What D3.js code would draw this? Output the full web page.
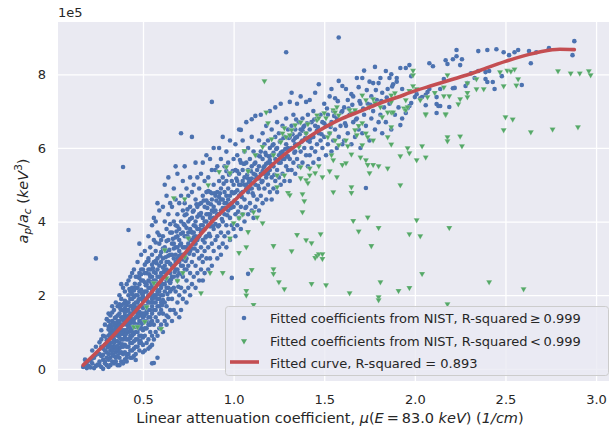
<!DOCTYPE html>
<html>
<head>
<meta charset="utf-8">
<script src="https://cdn.jsdelivr.net/npm/d3@7"></script>
<style>
body { margin: 0; background: #fff; }
text { font-family: "DejaVu Sans", sans-serif; fill: #262626; }
</style>
</head>
<body>
<div id="chart"></div>
<script>
// values; ratio a_p/a_c is in units of 1e5
var curveMu    = [0.17, 0.3, 0.4, 0.5, 0.6, 0.7, 0.8, 0.9, 1.0, 1.1, 1.2, 1.3, 1.4, 1.5, 1.6, 1.7, 1.8, 1.9, 2.0, 2.1, 2.2, 2.3, 2.4, 2.5, 2.6, 2.7, 2.8, 2.88];
var curveRatio = [0.10, 0.72, 1.25, 1.8, 2.4, 2.95, 3.55, 4.1, 4.55, 5.02, 5.48, 5.9, 6.25, 6.55, 6.8, 7.0, 7.2, 7.37, 7.55, 7.7, 7.85, 8.0, 8.18, 8.35, 8.5, 8.62, 8.68, 8.67];

// fitted coefficients from NIST, R-squared >= 0.999  [mu, ratio]
var nistGood = [
[0.17,0.05],[0.18,0.12],[0.19,0.02],[0.18,0.25],[0.2,0.08],[0.19,0.18],
[0.21,0.04],[0.22,0.15],[0.23,0.3],[0.21,0.22],[0.24,0.08],[0.22,0.5],[0.23,0.02],[0.24,0.38],[0.25,0.12],[0.22,0.28],[0.24,0.6],[0.24,3.0],
[0.26,0.1],[0.27,0.35],[0.28,0.55],[0.26,0.72],[0.29,0.2],[0.27,0.05],[0.28,0.9],[0.3,0.45],[0.29,0.65],[0.26,0.4],[0.27,1.05],[0.28,0.25],[0.29,1.2],[0.3,0.78],[0.3,0.1],[0.28,0.38],[0.27,0.6],[0.29,0.5],[0.26,0.2],[0.3,1.35],[0.29,0.88],[0.28,0.0],[0.3,0.3],[0.27,0.8],[0.29,0.15],
[0.31,0.05],[0.31,0.4],[0.32,0.7],[0.32,1.0],[0.33,0.2],[0.33,1.3],[0.34,0.55],[0.34,0.9],[0.31,1.15],[0.32,0.3],[0.33,0.85],[0.34,1.6],[0.35,0.45],[0.35,1.1],[0.31,0.65],[0.32,1.45],[0.33,0.6],[0.34,0.15],[0.35,0.75],[0.31,0.9],[0.32,0.5],[0.33,1.05],[0.34,1.25],[0.35,0.3],[0.31,0.25],[0.32,0.85],[0.33,0.4],[0.34,0.7],[0.35,1.4],[0.35,0.95],[0.31,1.5],[0.32,1.2],[0.33,1.7],[0.34,0.35],[0.35,0.6],[0.32,0.1],[0.33,0.95],[0.34,1.05],[0.31,0.75],[0.35,1.8],[0.33,0.5],[0.34,0.8],[0.32,0.6],[0.31,1.3],[0.35,0.2],
[0.36,0.1],[0.36,0.5],[0.36,0.9],[0.36,1.3],[0.36,1.7],[0.37,0.3],[0.37,0.7],[0.37,1.1],[0.37,1.5],[0.37,2.0],[0.38,0.2],[0.38,0.6],[0.38,1.0],[0.38,1.4],[0.38,1.9],[0.39,0.4],[0.39,0.8],[0.39,1.2],[0.39,1.6],[0.39,2.2],[0.4,0.25],[0.4,0.65],[0.4,1.05],[0.4,1.45],[0.4,1.85],[0.36,0.75],[0.37,0.95],[0.38,1.2],[0.39,0.95],[0.4,0.85],[0.36,1.15],[0.37,1.3],[0.38,0.8],[0.39,1.05],[0.4,1.25],[0.36,0.35],[0.37,0.55],[0.38,0.45],[0.39,0.6],[0.4,0.45],[0.37,1.75],[0.38,1.6],[0.39,1.4],[0.4,1.65],[0.36,1.45],[0.38,2.3],[0.39,0.15],[0.37,0.1],[0.4,2.1],[0.38,1.05],[0.39,5.48],[0.36,1.0],[0.37,0.85],[0.4,1.0],[0.38,0.95],
[0.41,0.2],[0.41,0.6],[0.41,1.0],[0.41,1.4],[0.41,1.8],[0.41,2.3],[0.42,0.4],[0.42,0.8],[0.42,1.2],[0.42,1.6],[0.42,2.0],[0.42,3.77],[0.43,0.3],[0.43,0.7],[0.43,1.1],[0.43,1.5],[0.43,1.9],[0.43,2.5],[0.44,0.5],[0.44,0.9],[0.44,1.3],[0.44,1.7],[0.44,2.2],[0.45,0.35],[0.45,0.75],[0.45,1.15],[0.45,1.55],[0.45,1.95],[0.45,2.7],[0.41,1.2],[0.42,1.0],[0.43,1.3],[0.44,1.1],[0.45,1.35],[0.41,0.8],[0.42,1.45],[0.43,0.9],[0.44,1.5],[0.45,0.95],[0.41,1.6],[0.42,0.6],[0.43,1.7],[0.44,0.7],[0.45,1.75],[0.42,1.8],[0.43,2.1],[0.44,1.9],[0.41,0.4],[0.43,0.5],[0.45,0.55],[0.42,2.4],[0.44,2.6],[0.41,1.05],[0.43,1.2],[0.45,1.25],[0.44,0.3],[0.42,1.25],[0.43,1.4],[0.41,1.35],[0.44,1.0],[0.41,0.3],[0.46,0.24],
[0.46,0.4],[0.46,0.8],[0.46,1.2],[0.46,1.6],[0.46,2.0],[0.46,2.5],[0.47,0.6],[0.47,1.0],[0.47,1.4],[0.47,1.8],[0.47,2.2],[0.47,2.9],[0.48,0.5],[0.48,0.9],[0.48,1.3],[0.48,1.7],[0.48,2.1],[0.48,2.6],[0.49,0.7],[0.49,1.1],[0.49,1.5],[0.49,1.9],[0.49,2.4],[0.49,3.1],[0.5,0.45],[0.5,0.85],[0.5,1.25],[0.5,1.65],[0.5,2.05],[0.5,2.7],[0.46,1.4],[0.47,1.55],[0.48,1.45],[0.49,1.3],[0.5,1.5],[0.46,1.0],[0.47,1.2],[0.48,1.1],[0.49,1.7],[0.5,1.05],[0.46,1.8],[0.47,2.0],[0.48,1.9],[0.49,2.15],[0.5,1.85],[0.46,0.6],[0.47,0.8],[0.48,0.7],[0.49,0.9],[0.5,0.65],[0.46,2.2],[0.47,2.5],[0.48,2.3],[0.49,2.7],[0.5,2.4],[0.47,1.65],[0.48,1.55],[0.49,1.2],[0.5,1.4],[0.48,3.4],
[0.51,0.5],[0.51,0.9],[0.51,1.3],[0.51,1.7],[0.51,2.1],[0.51,2.6],[0.51,3.2],[0.52,0.7],[0.52,1.1],[0.52,1.5],[0.52,1.9],[0.52,2.3],[0.52,2.9],[0.53,0.8],[0.53,1.2],[0.53,1.6],[0.53,2.0],[0.53,2.4],[0.53,3.0],[0.53,3.6],[0.54,0.6],[0.54,1.0],[0.54,1.4],[0.54,1.8],[0.54,2.2],[0.54,2.7],[0.54,3.3],[0.55,0.9],[0.55,1.3],[0.55,1.7],[0.55,2.1],[0.55,2.5],[0.55,3.1],[0.55,3.9],[0.51,1.5],[0.52,1.7],[0.53,1.8],[0.54,1.6],[0.55,1.9],[0.51,1.9],[0.52,2.1],[0.53,2.2],[0.54,2.0],[0.55,2.3],[0.51,1.1],[0.52,1.3],[0.53,1.4],[0.54,1.2],[0.55,1.5],[0.52,2.6],[0.53,2.7],[0.54,2.5],[0.51,2.35],[0.53,0.55],[0.55,0.65],[0.55,0.15],[0.56,0.16],[0.58,0.3],
[0.56,0.8],[0.56,1.2],[0.56,1.6],[0.56,2.0],[0.56,2.4],[0.56,2.9],[0.56,3.5],[0.57,1.0],[0.57,1.4],[0.57,1.8],[0.57,2.2],[0.57,2.6],[0.57,3.2],[0.57,4.0],[0.58,0.9],[0.58,1.3],[0.58,1.7],[0.58,2.1],[0.58,2.5],[0.58,3.0],[0.58,3.7],[0.59,1.1],[0.59,1.5],[0.59,1.9],[0.59,2.3],[0.59,2.8],[0.59,3.4],[0.59,4.3],[0.6,1.2],[0.6,1.6],[0.6,2.0],[0.6,2.4],[0.6,2.9],[0.6,3.5],[0.56,2.2],[0.57,2.0],[0.58,2.3],[0.59,2.1],[0.6,2.2],[0.56,1.8],[0.57,1.6],[0.58,1.9],[0.59,1.7],[0.6,1.8],[0.57,2.4],[0.58,2.7],[0.59,2.5],[0.6,2.6],[0.58,4.5],[0.56,4.1],
[0.61,1.0],[0.61,1.5],[0.61,2.0],[0.61,2.5],[0.61,3.0],[0.61,3.6],[0.61,4.4],[0.62,1.3],[0.62,1.8],[0.62,2.3],[0.62,2.8],[0.62,3.3],[0.62,4.0],[0.63,1.2],[0.63,1.7],[0.63,2.2],[0.63,2.7],[0.63,3.2],[0.63,3.8],[0.63,4.7],[0.64,1.4],[0.64,1.9],[0.64,2.4],[0.64,2.9],[0.64,3.5],[0.64,4.2],[0.65,1.6],[0.65,2.1],[0.65,2.6],[0.65,3.1],[0.65,3.7],[0.65,4.5],[0.61,2.3],[0.62,2.5],[0.63,2.4],[0.64,2.2],[0.65,2.35],[0.62,2.1],[0.63,2.9],[0.64,2.65],[0.61,2.75],[0.65,2.85],[0.63,1.45],[0.62,5.0],[0.64,5.2],
[0.66,1.3],[0.66,1.9],[0.66,2.5],[0.66,3.1],[0.66,3.7],[0.66,4.4],[0.67,1.6],[0.67,2.2],[0.67,2.8],[0.67,3.4],[0.67,4.0],[0.67,4.9],[0.68,1.5],[0.68,2.1],[0.68,2.7],[0.68,3.3],[0.68,3.9],[0.68,4.6],[0.69,1.8],[0.69,2.4],[0.69,3.0],[0.69,3.6],[0.69,4.2],[0.69,5.3],[0.7,2.0],[0.7,2.6],[0.7,3.2],[0.7,3.8],[0.7,4.5],[0.66,2.8],[0.67,3.0],[0.68,2.9],[0.69,2.7],[0.7,2.9],[0.67,2.5],[0.68,3.1],[0.69,3.3],[0.66,3.4],[0.7,3.5],[0.68,5.5],[0.7,1.4],
[0.71,1.6],[0.71,2.2],[0.71,2.8],[0.71,3.4],[0.71,4.0],[0.71,4.7],[0.71,6.4],[0.72,1.9],[0.72,2.5],[0.72,3.1],[0.72,3.7],[0.72,4.3],[0.72,5.1],[0.73,2.1],[0.73,2.7],[0.73,3.3],[0.73,3.9],[0.73,4.5],[0.73,5.5],[0.74,1.8],[0.74,2.4],[0.74,3.0],[0.74,3.6],[0.74,4.2],[0.74,4.9],[0.75,2.2],[0.75,2.8],[0.75,3.4],[0.75,4.0],[0.75,4.7],[0.72,3.3],[0.73,3.1],[0.74,3.3],[0.75,3.2],[0.71,3.1],[0.73,3.6],[0.74,2.7],[0.72,2.8],[0.75,3.7],
[0.76,2.0],[0.76,2.6],[0.76,3.2],[0.76,3.8],[0.76,4.4],[0.76,5.2],[0.77,2.3],[0.77,2.9],[0.77,3.5],[0.77,4.1],[0.77,4.8],[0.77,6.3],[0.78,2.5],[0.78,3.1],[0.78,3.7],[0.78,4.3],[0.78,5.0],[0.79,2.2],[0.79,2.8],[0.79,3.4],[0.79,4.0],[0.79,4.6],[0.79,5.6],[0.8,2.6],[0.8,3.2],[0.8,3.8],[0.8,4.4],[0.8,5.2],[0.77,3.7],[0.78,3.4],[0.79,3.6],[0.8,3.5],[0.76,3.5],[0.78,3.9],
[0.81,2.4],[0.81,3.0],[0.81,3.6],[0.81,4.2],[0.81,4.9],[0.82,2.7],[0.82,3.3],[0.82,3.9],[0.82,4.5],[0.82,5.3],[0.83,2.9],[0.83,3.5],[0.83,4.1],[0.83,4.7],[0.83,5.6],[0.84,2.6],[0.84,3.2],[0.84,3.8],[0.84,4.4],[0.84,5.1],[0.85,3.0],[0.85,3.6],[0.85,4.2],[0.85,4.8],[0.85,5.8],[0.82,3.7],[0.83,3.9],[0.84,4.0],[0.81,3.8],[0.85,4.0],[0.83,2.4],
[0.86,2.7],[0.86,3.3],[0.86,3.9],[0.86,4.5],[0.86,5.2],[0.87,3.0],[0.87,3.6],[0.87,4.2],[0.87,4.8],[0.87,5.7],[0.88,2.8],[0.88,3.4],[0.88,4.0],[0.88,4.6],[0.88,5.4],[0.88,7.25],[0.89,3.2],[0.89,3.8],[0.89,4.4],[0.89,5.0],[0.89,6.0],[0.9,3.5],[0.9,4.1],[0.9,4.7],[0.9,5.4],[0.87,4.1],[0.88,4.3],[0.89,4.1],[0.86,4.2],[0.9,4.3],
[0.91,3.0],[0.91,3.6],[0.91,4.2],[0.91,4.8],[0.91,5.5],[0.92,3.3],[0.92,3.9],[0.92,4.5],[0.92,5.1],[0.92,6.0],[0.93,3.1],[0.93,3.7],[0.93,4.3],[0.93,4.9],[0.93,5.7],[0.94,3.4],[0.94,4.0],[0.94,4.6],[0.94,5.2],[0.94,6.3],[0.95,3.6],[0.95,4.2],[0.95,4.8],[0.95,5.5],[0.96,3.3],[0.96,3.9],[0.96,4.5],[0.96,5.1],[0.96,5.9],[0.97,3.7],[0.97,4.3],[0.97,4.9],[0.97,5.6],[0.98,3.5],[0.98,4.1],[0.98,4.7],[0.98,5.3],[0.98,6.2],[0.99,3.9],[0.99,4.5],[0.99,5.1],[0.99,2.47],[1.0,3.8],[1.0,4.4],[1.0,5.0],[1.0,5.7],[0.93,4.6],[0.95,4.5],[0.97,4.6],[0.99,4.8],[0.92,4.2],[0.96,4.7],
[1.01,3.6],[1.01,4.2],[1.01,4.8],[1.01,5.4],[1.01,6.1],[1.02,3.9],[1.02,4.5],[1.02,5.1],[1.02,5.8],[1.03,4.1],[1.03,4.7],[1.03,5.3],[1.03,6.5],[1.04,3.8],[1.04,4.4],[1.04,5.0],[1.04,5.6],[1.04,6.49],[1.05,4.2],[1.05,4.8],[1.05,5.4],[1.05,6.2],[1.06,4.0],[1.06,4.6],[1.06,5.2],[1.06,5.9],[1.07,4.4],[1.07,5.0],[1.07,5.6],[1.07,6.7],[1.08,4.2],[1.08,4.8],[1.08,5.4],[1.08,6.0],[1.08,2.58],[1.09,4.5],[1.09,5.1],[1.09,5.7],[1.1,4.3],[1.1,4.9],[1.1,5.5],[1.1,6.3],[1.1,6.78],[1.03,5.0],[1.05,5.1],[1.07,4.9],[1.09,4.9],[1.02,4.85],[1.06,5.0],
[1.11,4.1],[1.11,4.7],[1.11,5.3],[1.11,5.9],[1.12,4.4],[1.12,5.0],[1.12,5.6],[1.12,6.87],[1.13,4.6],[1.13,5.2],[1.13,5.8],[1.14,4.3],[1.14,4.9],[1.14,5.5],[1.14,6.2],[1.15,4.7],[1.15,5.3],[1.15,5.9],[1.15,6.9],[1.16,4.5],[1.16,5.1],[1.16,5.7],[1.16,6.4],[1.17,4.9],[1.17,5.5],[1.17,6.1],[1.18,4.6],[1.18,5.2],[1.18,5.8],[1.18,6.6],[1.19,5.0],[1.19,5.6],[1.19,6.2],[1.2,4.8],[1.2,5.4],[1.2,6.0],[1.2,7.0],[1.13,5.4],[1.17,5.3],[1.19,5.3],
[1.21,4.6],[1.21,5.2],[1.21,5.8],[1.21,6.5],[1.22,4.9],[1.22,5.5],[1.22,6.1],[1.23,5.1],[1.23,5.7],[1.23,6.3],[1.23,7.1],[1.24,4.8],[1.24,5.4],[1.24,6.0],[1.24,6.7],[1.25,5.2],[1.25,5.8],[1.25,6.4],[1.26,5.0],[1.26,5.6],[1.26,6.2],[1.26,7.2],[1.27,5.3],[1.27,5.9],[1.27,6.6],[1.28,5.1],[1.28,5.7],[1.28,6.3],[1.29,5.5],[1.29,6.1],[1.29,6.8],[1.29,8.6],[1.3,5.4],[1.3,6.0],[1.3,6.5],[1.25,5.6],[1.27,5.7],
[1.31,5.1],[1.31,5.7],[1.31,6.3],[1.31,7.25],[1.32,5.4],[1.32,6.0],[1.32,6.6],[1.32,7.5],[1.33,5.6],[1.33,6.2],[1.33,6.9],[1.34,5.3],[1.34,5.9],[1.34,6.5],[1.35,5.7],[1.35,6.3],[1.35,7.2],[1.36,5.5],[1.36,6.1],[1.36,6.7],[1.37,5.9],[1.37,6.5],[1.37,7.4],[1.38,5.6],[1.38,6.2],[1.38,6.8],[1.39,6.0],[1.39,6.6],[1.4,5.8],[1.4,6.4],[1.4,7.25],[1.34,6.1],
[1.41,5.5],[1.41,6.2],[1.41,6.9],[1.42,5.8],[1.42,6.5],[1.42,7.3],[1.43,6.0],[1.43,6.7],[1.44,5.6],[1.44,6.3],[1.44,7.0],[1.45,5.9],[1.45,6.6],[1.45,7.5],[1.46,6.1],[1.46,6.8],[1.47,5.7],[1.47,6.4],[1.47,7.73],[1.48,6.2],[1.48,6.9],[1.49,6.0],[1.49,6.7],[1.5,6.3],[1.5,7.2],
[1.51,5.8],[1.51,6.6],[1.52,6.1],[1.52,6.9],[1.53,6.4],[1.53,7.4],[1.54,5.9],[1.54,6.7],[1.54,7.6],[1.55,6.2],[1.55,7.0],[1.56,6.5],[1.56,7.35],[1.57,6.0],[1.57,6.8],[1.58,6.3],[1.58,7.82],[1.58,9.0],[1.59,6.6],[1.6,6.1],[1.6,7.0],[1.6,7.68],
[1.61,6.2],[1.61,7.1],[1.62,6.6],[1.62,7.6],[1.63,6.4],[1.63,7.3],[1.64,6.9],[1.65,6.1],[1.65,7.46],[1.66,6.7],[1.66,7.4],[1.67,6.3],[1.67,7.0],[1.68,6.8],[1.68,7.9],[1.69,6.5],[1.69,7.65],[1.7,7.2],[1.7,6.0],
[1.71,6.4],[1.71,7.9],[1.72,6.9],[1.72,8.1],[1.73,6.6],[1.73,4.91],[1.74,7.2],[1.75,6.2],[1.75,7.8],[1.76,6.8],[1.76,7.4],[1.77,7.0],[1.77,7.76],[1.78,6.5],[1.78,8.2],[1.79,7.3],[1.8,6.7],[1.8,7.76],
[1.81,6.9],[1.81,7.9],[1.82,6.4],[1.82,7.5],[1.83,7.1],[1.84,8.09],[1.84,6.7],[1.85,7.6],[1.86,7.2],[1.86,7.9],[1.87,6.5],[1.87,8.0],[1.88,7.73],[1.89,6.9],[1.9,7.8],[1.9,7.9],
[1.91,7.1],[1.92,8.17],[1.92,6.62],[1.93,6.8],[1.93,7.6],[1.95,8.17],[1.95,6.95],[1.96,7.08],[1.97,8.25],[1.97,7.14],[1.98,7.95],[1.98,7.22],[2.0,7.38],[2.01,7.46],[2.03,7.35],[2.04,7.38],[2.06,7.44],[2.06,7.16],[2.07,7.52],[2.08,7.6],[2.08,8.3],[2.1,8.22],
[2.12,7.38],[2.12,7.19],[2.12,6.95],[2.13,7.14],[2.14,7.6],[2.14,7.14],[2.16,7.87],[2.17,8.38],[2.18,8.28],[2.19,7.11],[2.21,8.41],[2.21,7.62],[2.22,7.63],[2.23,8.66],[2.23,8.49],[2.25,8.25],[2.26,8.41],[2.28,7.68],[2.29,7.76],[2.31,8.03],[2.33,7.9],
[2.35,8.63],[2.35,8.09],[2.39,8.06],[2.39,7.87],[2.4,8.66],[2.4,7.79],[2.41,8.09],[2.43,7.79],[2.44,7.6],[2.45,8.68],[2.48,7.95],[2.49,8.6],[2.52,8.52],[2.55,8.6],[2.57,8.66],[2.59,7.71],[2.63,8.63],[2.64,8.3],[2.67,8.6],[2.74,8.71],[2.88,8.9],[2.87,8.52]
];

// more points from the densest part of the cloud, same series
var nistGoodCore = [
[0.305,0.58],[0.315,0.92],[0.325,1.12],[0.335,0.73],[0.345,1.38],[0.355,0.52],[0.365,1.21],[0.375,1.63],[0.385,0.67],[0.395,1.77],[0.405,0.93],[0.415,1.58],[0.425,2.17],[0.435,1.03],[0.445,1.62],[0.455,2.31],[0.465,1.13],[0.475,1.87],[0.485,0.77],[0.495,2.03],
[0.31,1.07],[0.33,1.53],[0.35,1.23],[0.37,0.43],[0.39,1.33],[0.41,1.73],[0.43,0.83],[0.45,2.13],[0.47,1.47],[0.49,2.57],
[0.32,0.87],[0.34,1.17],[0.36,0.62],[0.38,1.73],[0.4,1.53],[0.42,1.13],[0.44,2.03],[0.46,1.67],[0.48,2.47],[0.5,1.97],
[0.505,1.43],[0.515,2.27],[0.525,1.83],[0.535,2.57],[0.545,1.27],[0.555,2.73],[0.565,1.93],[0.575,2.87],[0.585,2.13],[0.595,3.07],[0.605,1.73],[0.615,2.63],[0.625,3.03],[0.635,2.03],[0.645,3.23],[0.655,2.43],[0.665,3.53],[0.675,2.63],[0.685,3.73],[0.695,2.23],
[0.51,2.83],[0.53,1.97],[0.55,2.83],[0.57,2.93],[0.59,3.63],[0.61,3.27],[0.63,3.47],[0.65,3.93],[0.67,3.27],[0.69,3.87],
[0.52,1.57],[0.54,2.37],[0.56,2.63],[0.58,2.03],[0.6,3.17],[0.62,2.67],[0.64,3.07],[0.66,2.17],[0.68,3.57],[0.7,3.07],
[0.53,2.93],[0.57,3.43],[0.61,1.87],[0.65,2.33],[0.69,2.53],
[0.705,3.37],[0.715,2.57],[0.725,3.93],[0.735,2.93],[0.745,4.33],[0.755,3.13],[0.765,3.73],[0.775,4.27],[0.785,3.27],[0.795,4.47],[0.805,3.57],[0.815,4.17],[0.825,3.07],[0.835,4.57],[0.845,3.57],[0.855,4.37],[0.865,3.67],[0.875,4.47],[0.885,3.87],[0.895,4.77],
[0.71,3.67],[0.73,4.17],[0.75,3.57],[0.77,3.27],[0.79,3.87],[0.81,4.47],[0.83,3.77],[0.85,4.57],[0.87,3.87],[0.89,4.27],
[0.72,2.97],[0.74,3.83],[0.76,4.07],[0.78,3.57],[0.8,4.13],[0.82,4.23],[0.84,3.43],[0.86,4.83],[0.88,4.77],[0.9,3.93],
[0.905,4.57],[0.915,3.87],[0.925,4.77],[0.935,4.07],[0.945,5.03],[0.955,4.37],[0.965,4.17],[0.975,5.27],[0.985,4.37],[0.995,5.37],[1.005,4.57],[1.015,5.17],[1.025,4.27],[1.035,5.67],[1.045,4.67],[1.055,5.57],[1.065,4.37],[1.075,5.27],[1.085,5.07],[1.095,5.37],[1.105,4.77],[1.115,5.57],[1.125,5.17],[1.135,4.97],[1.145,5.77],[1.155,5.07],[1.165,5.47],[1.175,5.87],[1.185,5.37],[1.195,5.77],
[0.92,4.67],[0.94,4.37],[0.96,5.37],[0.98,4.47],[1.0,4.77],[1.02,5.37],[1.04,4.77],[1.06,5.57],[1.08,5.17],[1.1,5.17],[1.12,5.27],[1.14,5.17],[1.16,5.37],[1.18,5.57],[1.2,5.67],
[1.205,5.57],[1.215,6.07],[1.225,5.27],[1.235,5.97],[1.245,5.67],[1.255,6.17],[1.265,5.87],[1.275,6.27],[1.285,5.97],[1.295,5.77],[1.305,6.27],[1.315,5.97],[1.325,6.37],[1.335,5.87],[1.345,6.77],[1.355,6.07],[1.365,6.37],[1.375,6.17],[1.385,6.57],[1.395,6.27],
[1.22,5.87],[1.26,5.87],[1.3,5.77],[1.34,6.27],[1.38,6.47],[1.42,6.17],[1.46,6.47],[1.5,6.67],
[1.405,6.67],[1.425,6.27],[1.445,6.77],[1.465,6.57],[1.485,6.37],
[1.515,7.07],[1.535,6.57],[1.555,6.87],[1.575,7.27],[1.595,6.97],[1.615,6.67],[1.635,7.07],[1.655,7.17],[1.675,6.77],[1.695,7.27],[1.715,7.07],[1.735,7.57],[1.755,7.17],[1.785,7.57],[1.815,7.27],[1.845,7.37],[1.875,7.67]
];

// fitted coefficients from NIST, R-squared < 0.999  [mu, ratio]
var nistPoor = [
[0.45,1.14],[0.47,1.14],[0.51,1.28],[0.52,1.68],[0.6,1.09],[0.56,2.33],[0.63,2.47],[0.69,2.39],[0.72,2.61],[0.73,3.04],[0.62,3.23],[0.75,3.55],[0.67,4.64],[0.73,4.61],
[0.82,2.06],[0.87,2.61],[0.94,2.61],[0.86,4.99],[0.92,5.35],[0.96,5.48],[0.98,5.32],[0.98,3.55],[1.0,3.96],[1.03,4.1],[1.05,4.2],[1.03,3.15],[1.07,3.31],[1.08,3.72],[1.07,2.12],[1.07,2.0],[1.1,2.69],[1.11,1.74],[1.11,4.26],[1.13,4.12],[1.16,3.96],
[1.06,5.92],[1.08,5.37],[1.12,5.81],[1.16,6.03],[1.17,7.82],[1.18,6.97],[1.19,6.68],[1.21,6.24],[1.22,5.81],[1.22,3.34],[1.22,2.71],[1.22,2.58],[1.24,5.26],[1.24,4.94],[1.25,2.36],[1.26,6.16],[1.27,6.4],[1.28,6.54],[1.28,5.26],[1.28,2.17],[1.29,6.3],[1.3,4.78],[1.31,4.72],[1.31,6.35],[1.32,6.49],[1.32,3.2],
[1.34,6.62],[1.35,3.64],[1.36,6.03],[1.37,6.7],[1.37,5.48],[1.37,5.18],[1.38,4.75],[1.38,4.26],[1.39,4.56],[1.4,6.4],[1.4,5.13],[1.4,3.5],[1.41,6.65],[1.41,5.05],[1.42,5.45],[1.42,5.26],[1.43,3.42],[1.43,2.31],[1.45,5.32],[1.45,3.02],[1.46,6.89],[1.46,6.76],[1.46,3.07],[1.47,6.81],[1.47,5.51],[1.47,3.12],[1.48,3.66],[1.49,5.21],[1.49,3.12],[1.49,2.99],
[1.5,6.95],[1.51,6.81],[1.51,2.28],[1.52,6.3],[1.53,6.4],[1.53,5.37],[1.54,6.65],[1.54,5.81],[1.55,7.03],[1.55,5.67],[1.55,4.8],[1.56,6.97],[1.56,6.21],[1.57,7.11],[1.57,5.21],[1.58,6.89],[1.58,6.08],[1.6,5.54],[1.62,6.21],[1.62,5.59],[1.63,6.05],[1.64,7.03],[1.64,2.06],[1.65,6.95],[1.65,5.83],[1.65,4.94],[1.65,4.78],[1.66,4.02],[1.67,7.03],[1.67,6.49],[1.68,6.35],[1.69,6.6],[1.69,3.74],
[1.7,5.75],[1.71,7.43],[1.71,6.68],[1.71,6.08],[1.73,7.3],[1.73,6.4],[1.73,5.67],[1.74,6.3],[1.74,5.54],[1.74,4.12],[1.75,7.11],[1.75,5.32],[1.76,3.34],[1.77,7.33],[1.77,6.21],[1.77,5.54],[1.78,7.22],[1.8,5.51],[1.8,3.83],[1.8,1.95],[1.8,1.87],[1.81,7.11],[1.81,2.36],[1.82,6.84],[1.85,6.97],[1.85,6.3],[1.85,5.45],[1.87,6.97],[1.87,7.25],[1.87,7.43],[1.87,6.57],[1.87,6.1],[1.88,6.97],[1.89,7.49],[1.91,2.12],
[1.92,5.78],[1.92,4.99],[1.94,7.08],[1.95,7.3],[1.95,7.03],[1.96,7.11],[1.96,6.0],[1.97,7.55],[1.97,5.86],[1.97,3.66],[1.97,2.2],[1.99,7.68],[1.99,7.98],[1.99,8.1],[2.01,7.6],[2.01,5.67],[2.01,4.04],[2.03,7.3],[2.03,3.61],[2.04,6.05],[2.04,2.58],[2.06,6.9],[2.06,6.92],[2.06,5.75],[2.07,7.38],[2.11,7.5],
[2.16,7.41],[2.16,7.65],[2.17,6.9],[2.17,6.92],[2.18,7.98],[2.18,6.3],[2.18,6.19],[2.18,1.76],[2.19,7.41],[2.19,3.83],[2.24,7.19],[2.25,7.33],[2.25,6.32],[2.26,6.05],[2.29,7.76],[2.29,7.5],[2.29,7.38],[2.34,7.87],[2.34,7.6],[2.38,7.6],[2.41,2.36],
[2.47,8.06],[2.49,7.68],[2.49,6.49],[2.5,6.84],[2.51,8.1],[2.53,8.08],[2.54,6.78],[2.55,8.14],[2.56,7.7],[2.57,7.87],[2.6,2.17],[2.64,6.43],[2.76,6.51],[2.79,8.09],[2.86,8.03],[2.9,6.57],[2.91,8.03],[2.96,8.09],[2.97,7.98]
];

var xTicks = [0.5, 1.0, 1.5, 2.0, 2.5, 3.0];
var yTicks = [0, 2, 4, 6, 8];

var legendLabels = [
    'Fitted coefficients from NIST, R-squared\u2009\u2265\u20090.999',
    'Fitted coefficients from NIST, R-squared\u2009<\u20090.999',
    'Fitted curve, R-squared = 0.893'
];

var blue  = '#4C72B0';
var green = '#55A868';
var red   = '#C44E52';

var chart_width  = 609;
var chart_height = 432;
var plot_left    = 58;
var plot_right   = 616;
var plot_top     = 22;
var plot_bottom  = 381;

var svg = d3.select('#chart')
    .append('svg')
    .attr('width', chart_width)
    .attr('height', chart_height);

var x = d3.scaleLinear().domain([0.031, 3.11]).range([plot_left, plot_right]);
var y = d3.scaleLinear().domain([-0.33, 9.42]).range([plot_bottom, plot_top]);

svg.append('rect')
    .attr('x', plot_left)
    .attr('y', plot_top)
    .attr('width', plot_right - plot_left)
    .attr('height', plot_bottom - plot_top)
    .attr('fill', '#EAEAF2');

// grid + ticks
var xAxis = svg.append('g')
    .attr('transform', 'translate(0,' + plot_bottom + ')')
    .call(d3.axisBottom(x)
        .tickValues(xTicks)
        .tickFormat(d3.format('.1f'))
        .tickSize(-(plot_bottom - plot_top))
        .tickPadding(14));

var yAxis = svg.append('g')
    .attr('transform', 'translate(' + plot_left + ',0)')
    .call(d3.axisLeft(y)
        .tickValues(yTicks)
        .tickFormat(d3.format('d'))
        .tickSize(-(plot_right - plot_left))
        .tickPadding(12));

[xAxis, yAxis].forEach(function(g){
    g.select('.domain').remove();
    g.selectAll('.tick line').attr('stroke', '#fff').attr('stroke-width', 1.3);
    g.selectAll('.tick text')
        .attr('font-family', '"DejaVu Sans", sans-serif')
        .attr('font-size', 13)
        .attr('fill', '#262626');
});

// offset label
svg.append('text')
    .attr('x', plot_left)
    .attr('y', 17)
    .attr('font-size', 13)
    .text('1e5');

// scatter
svg.append('g')
    .selectAll('circle')
    .data(nistGood.concat(nistGoodCore))
    .enter()
    .append('circle')
    .attr('cx', function(d){ return x(d[0]); })
    .attr('cy', function(d){ return y(d[1]); })
    .attr('r', 2.3)
    .attr('fill', blue);

var tri = d3.symbol().type(d3.symbolTriangle).size(16);

svg.append('g')
    .selectAll('path')
    .data(nistPoor)
    .enter()
    .append('path')
    .attr('d', tri)
    .attr('transform', function(d){
        return 'translate(' + x(d[0]) + ',' + y(d[1]) + ') rotate(180)';
    })
    .attr('fill', green)
    .attr('stroke', '#fff')
    .attr('stroke-opacity', 0.5)
    .attr('stroke-width', 0.4);

// fitted curve
var line = d3.line()
    .x(function(d){ return x(d); })
    .y(function(d, i){ return y(curveRatio[i]); })
    .curve(d3.curveMonotoneX);

svg.append('path')
    .datum(curveMu)
    .attr('d', line)
    .attr('fill', 'none')
    .attr('stroke', red)
    .attr('stroke-width', 3.6)
    .attr('stroke-linecap', 'round');

// axis labels
var xl = svg.append('text')
    .attr('x', 330)
    .attr('y', 423)
    .attr('text-anchor', 'middle')
    .attr('font-size', 14.5);
xl.append('tspan').text('Linear attenuation coefficient, ');
xl.append('tspan').attr('font-style', 'italic').text('\u03bc');
xl.append('tspan').text('(');
xl.append('tspan').attr('font-style', 'italic').text('E');
xl.append('tspan').text('\u2009=\u200983.0 ');
xl.append('tspan').attr('font-style', 'italic').text('keV');
xl.append('tspan').text(') (');
xl.append('tspan').attr('font-style', 'italic').text('1/cm');
xl.append('tspan').text(')');

var yl = svg.append('text')
    .attr('transform', 'translate(28,201) rotate(-90)')
    .attr('text-anchor', 'middle')
    .attr('font-size', 14.5);
yl.append('tspan').attr('font-style', 'italic').text('a');
yl.append('tspan').attr('font-style', 'italic').attr('font-size', 10.5).attr('dy', 3).text('p');
yl.append('tspan').attr('dy', -3).text('/');
yl.append('tspan').attr('font-style', 'italic').text('a');
yl.append('tspan').attr('font-style', 'italic').attr('font-size', 10.5).attr('dy', 3).text('c');
yl.append('tspan').attr('dy', -3).text(' (');
yl.append('tspan').attr('font-style', 'italic').text('keV');
yl.append('tspan').attr('font-size', 10.5).attr('dy', -6).text('3');
yl.append('tspan').attr('dy', 6).text(')');

// legend
var lg = svg.append('g');
lg.append('rect')
    .attr('x', 225.5)
    .attr('y', 306.5)
    .attr('width', 383)
    .attr('height', 69)
    .attr('rx', 3)
    .attr('fill', '#EAEAF2')
    .attr('fill-opacity', 0.8)
    .attr('stroke', '#cccccc');

lg.append('circle').attr('cx', 244).attr('cy', 318).attr('r', 2.3).attr('fill', blue);
lg.append('path').attr('d', tri).attr('transform', 'translate(244,341) rotate(180)').attr('fill', green);
lg.append('line')
    .attr('x1', 230).attr('x2', 259)
    .attr('y1', 362).attr('y2', 362)
    .attr('stroke', red)
    .attr('stroke-width', 3.6);

lg.selectAll('text.lab')
    .data(legendLabels)
    .enter()
    .append('text')
    .attr('class', 'lab')
    .attr('x', 270)
    .attr('y', function(d, i){ return 323 + i * 22.5; })
    .attr('font-size', 13)
    .text(function(d){ return d; });
</script>
</body>
</html>
